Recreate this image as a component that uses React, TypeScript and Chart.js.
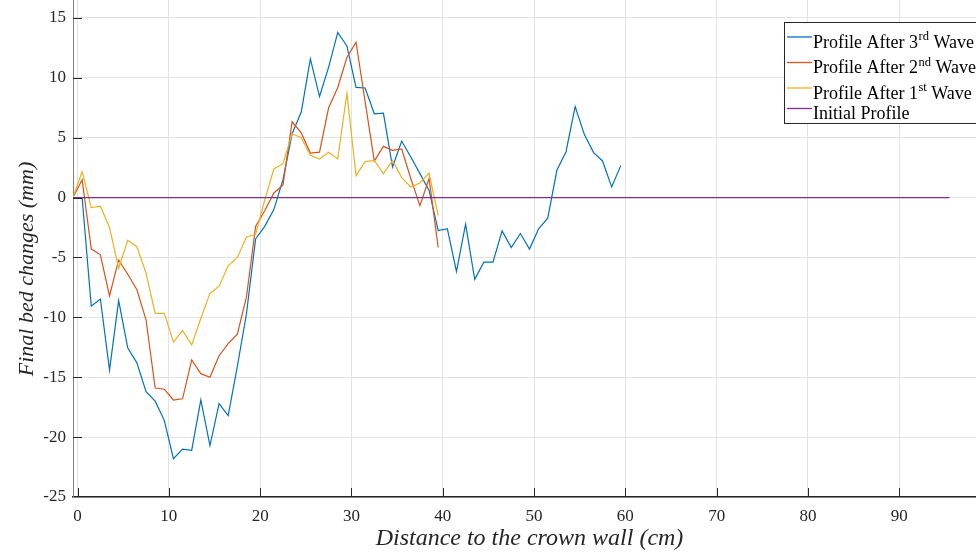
import { useEffect, useRef } from "react";
import { Chart, registerables } from "chart.js";

Chart.register(...registerables);

// Sampling positions along the flume (cm from the crown wall)
const distance = [
  -0.5, 0.5, 1.5, 2.5, 3.5, 4.5, 5.5, 6.5, 7.5, 8.5, 9.5, 10.5, 11.5, 12.5, 13.5,
  14.5, 15.5, 16.5, 17.5, 18.5, 19.5, 20.5, 21.5, 22.5, 23.5, 24.5, 25.5, 26.5,
  27.5, 28.5, 29.5, 30.5, 31.5, 32.5, 33.5, 34.5, 35.5, 36.5, 37.5, 38.5, 39.5,
  40.5, 41.5, 42.5, 43.5, 44.5, 45.5, 46.5, 47.5, 48.5, 49.5, 50.5, 51.5, 52.5,
  53.5, 54.5, 55.5, 56.5, 57.5, 58.5, 59.5,
];

// Bed change after the third wave (mm), measured out to 59.5 cm
const thirdWave = [
  0, 0, -9.06, -8.47, -14.4, -8.6, -12.56, -13.8, -16.2, -17.0, -18.6, -21.8,
  -21.0, -21.1, -16.9, -20.7, -17.2, -18.2, -14.1, -9.7, -3.45, -2.4, -1.0, 1.5,
  5.33, 7.14, 11.58, 8.44, 10.9, 13.8, 12.67, 9.2, 9.15, 7.0, 7.05, 2.55, 4.72,
  3.39, 2.0, 0.6, -2.75, -2.6, -6.17, -2.22, -6.83, -5.39, -5.39, -2.78, -4.17,
  -3.0, -4.3, -2.6, -1.72, 2.28, 3.83, 7.6, 5.28, 3.78, 3.06, 0.89, 2.67,
];

// Bed change after the second wave (mm), measured out to 39.5 cm
const secondWave = [
  0, 1.5, -4.28, -4.78, -8.2, -5.2, -6.4, -7.7, -10.2, -15.9, -16.0, -16.9,
  -16.8, -13.55, -14.7, -15.0, -13.2, -12.2, -11.4, -8.3, -2.4, -1.1, 0.39, 1.06,
  6.33, 5.4, 3.72, 3.8, 7.5, 9.2, 11.7, 12.97, 8.0, 3.06, 4.28, 3.94, 4.06, 1.6,
  -0.67, 1.6, -4.17,
];

// Bed change after the first wave (mm), measured out to 39.5 cm
const firstWave = [
  0, 2.17, -0.83, -0.72, -2.5, -5.9, -3.56, -4.1, -6.3, -9.67, -9.67, -12.06,
  -11.1, -12.3, -10.1, -8.0, -7.4, -5.67, -5.0, -3.28, -3.06, -0.2, 2.39, 2.83,
  5.33, 5.0, 3.53, 3.22, 3.78, 3.22, 8.72, 1.83, 3.0, 3.1, 2.0, 3.1, 1.67, 0.89,
  1.22, 2.05, -1.5,
];

// Flat initial bed
const initialDistance = [-0.5, 95.5];
const initialProfile = [0, 0];

const xTicks = [0, 10, 20, 30, 40, 50, 60, 70, 80, 90];
const yTicks = [-25, -20, -15, -10, -5, 0, 5, 10, 15];

const COLORS = {
  third: "#0072BD",
  second: "#D95319",
  first: "#EDB120",
  initial: "#7E2F8E",
};

const legendEntries = [
  { base: "Profile After 3", sup: "rd", tail: " Wave", color: COLORS.third },
  { base: "Profile After 2", sup: "nd", tail: " Wave", color: COLORS.second },
  { base: "Profile After 1", sup: "st", tail: " Wave", color: COLORS.first },
  { base: "Initial Profile", sup: "", tail: "", color: COLORS.initial },
];

const SERIF = '"Liberation Serif", "Times New Roman", serif';

const toPoints = (xs: number[], ys: number[]) =>
  ys.map((y, i) => ({ x: xs[i], y }));

// Inward tick marks, rotated y-axis label and the boxed legend
const decorations = {
  id: "decorations",
  afterDraw(chart: any) {
    const { ctx, chartArea, scales } = chart;
    const { left, bottom } = chartArea;
    ctx.save();

    // tick marks pointing into the plot
    ctx.strokeStyle = "#262626";
    ctx.lineWidth = 1;
    ctx.beginPath();
    yTicks.forEach((v) => {
      if (v === -25) return;
      const py = Math.round(scales.y.getPixelForValue(v)) + 0.5;
      ctx.moveTo(left, py);
      ctx.lineTo(left + 9, py);
    });
    xTicks.forEach((v) => {
      const px = Math.round(scales.x.getPixelForValue(v)) + 0.5;
      ctx.moveTo(px, bottom);
      ctx.lineTo(px, bottom - 9);
    });
    ctx.stroke();

    // y-axis title
    ctx.save();
    ctx.translate(27, 269);
    ctx.rotate(-Math.PI / 2);
    ctx.font = `italic 22px ${SERIF}`;
    ctx.fillStyle = "#262626";
    ctx.textAlign = "center";
    ctx.textBaseline = "middle";
    ctx.fillText("Final bed changes (mm)", 0, 0);
    ctx.restore();

    // legend box
    const boxX = 784.5;
    const boxY = 22.5;
    const boxW = 220;
    const boxH = 101;
    ctx.fillStyle = "#ffffff";
    ctx.fillRect(boxX, boxY, boxW, boxH);
    ctx.strokeStyle = "#262626";
    ctx.lineWidth = 1;
    ctx.strokeRect(boxX, boxY, boxW, boxH);

    const baselines = [47.5, 73, 98.5, 119];
    legendEntries.forEach((e, i) => {
      const base = baselines[i];
      const ly = base - 10.5;
      ctx.strokeStyle = e.color;
      ctx.lineWidth = 1.3;
      ctx.beginPath();
      ctx.moveTo(787, ly);
      ctx.lineTo(812, ly);
      ctx.stroke();

      ctx.fillStyle = "#000000";
      ctx.textAlign = "left";
      ctx.textBaseline = "alphabetic";
      ctx.font = `18px ${SERIF}`;
      let tx = 813;
      ctx.fillText(e.base, tx, base);
      tx += ctx.measureText(e.base).width;
      if (e.sup) {
        ctx.font = `12.5px ${SERIF}`;
        ctx.fillText(e.sup, tx + 0.5, base - 7.5);
        tx += ctx.measureText(e.sup).width + 0.5;
        ctx.font = `18px ${SERIF}`;
        ctx.fillText(e.tail, tx, base);
      }
    });

    ctx.restore();
  },
};

export default function App() {
  const canvasRef = useRef<HTMLCanvasElement | null>(null);

  useEffect(() => {
    const canvas = canvasRef.current;
    if (!canvas) return;

    const chart = new Chart(canvas, {
      type: "line",
      data: {
        datasets: [
          {
            label: "Profile After 3rd Wave",
            data: toPoints(distance, thirdWave),
            borderColor: COLORS.third,
            backgroundColor: COLORS.third,
            borderWidth: 1.2,
            pointRadius: 0,
            tension: 0,
            fill: false,
            order: 3,
          },
          {
            label: "Profile After 2nd Wave",
            data: toPoints(distance, secondWave),
            borderColor: COLORS.second,
            backgroundColor: COLORS.second,
            borderWidth: 1.2,
            pointRadius: 0,
            tension: 0,
            fill: false,
            order: 2,
          },
          {
            label: "Profile After 1st Wave",
            data: toPoints(distance, firstWave),
            borderColor: COLORS.first,
            backgroundColor: COLORS.first,
            borderWidth: 1.2,
            pointRadius: 0,
            tension: 0,
            fill: false,
            order: 1,
          },
          {
            label: "Initial Profile",
            data: toPoints(initialDistance, initialProfile),
            borderColor: COLORS.initial,
            backgroundColor: COLORS.initial,
            borderWidth: 1.2,
            pointRadius: 0,
            tension: 0,
            fill: false,
            order: 0,
          },
        ],
      },
      options: {
        responsive: false,
        animation: false,
        devicePixelRatio: 1,
        layout: { padding: 0 },
        plugins: {
          legend: { display: false },
          tooltip: { enabled: false },
        },
        scales: {
          x: {
            type: "linear",
            min: -0.5,
            max: 99.5,
            afterBuildTicks: (scale: any) => {
              scale.ticks = xTicks.map((value) => ({ value }));
            },
            afterFit: (scale: any) => {
              scale.height = 56;
              scale.paddingLeft = 0;
              scale.paddingRight = 0;
            },
            ticks: {
              autoSkip: false,
              maxRotation: 0,
              padding: 9,
              color: "#262626",
              font: { family: SERIF, size: 17 },
            },
            grid: { color: "#e3e3e3", lineWidth: 1, drawTicks: false },
            border: { color: "#262626", width: 1.5 },
            title: {
              display: true,
              text: "Distance to the crown wall (cm)",
              color: "#262626",
              font: { family: SERIF, size: 24, style: "italic" },
              padding: { top: 0, bottom: 0 },
            },
          },
          y: {
            type: "linear",
            min: -25,
            max: 16.5,
            afterBuildTicks: (scale: any) => {
              scale.ticks = yTicks.map((value) => ({ value }));
            },
            afterFit: (scale: any) => {
              scale.width = 73;
              scale.paddingTop = 0;
              scale.paddingBottom = 0;
            },
            ticks: {
              padding: 7,
              color: "#262626",
              font: { family: SERIF, size: 17 },
            },
            grid: { color: "#e3e3e3", lineWidth: 1, drawTicks: false },
            border: { color: "#808080", width: 1 },
          },
        },
      },
      plugins: [decorations],
    });

    return () => chart.destroy();
  }, []);

  return (
    <div
      style={{
        position: "fixed",
        left: 0,
        top: 0,
        width: 976,
        height: 553,
        overflow: "hidden",
        background: "#ffffff",
      }}
    >
      <canvas
        ref={canvasRef}
        width={986}
        height={553}
        style={{ display: "block", width: 986, height: 553 }}
      />
    </div>
  );
}
